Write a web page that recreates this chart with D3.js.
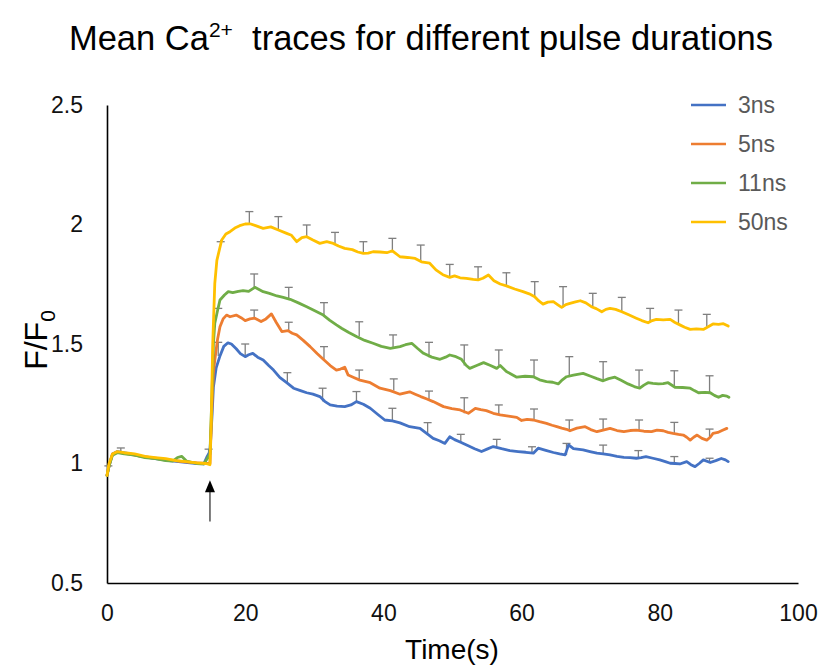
<!DOCTYPE html>
<html><head><meta charset="utf-8">
<script src="https://cdn.jsdelivr.net/npm/d3@7"></script>
<style>body{margin:0;background:#fff}svg{display:block}</style>
</head><body>
<svg id="c" width="823" height="668"></svg>
<script>
// ---------------- data ----------------
const seriesNames = ["3ns", "5ns", "11ns", "50ns"];
const seriesColors = ["#4472C4", "#ED7D31", "#70AD47", "#FFC000"];
const xTicks = [0, 20, 40, 60, 80, 100];
const yTicks = [0.5, 1, 1.5, 2, 2.5];

const t3 = [0,0.3,0.8,1.5,3,5,7,9,11,13,14,14.5,14.9,15.2,15.4,15.8,16.35,16.9,17.5,18,18.7,19.3,20,20.5,21.1,21.8,22.6,23.4,24.1,25,26,27,28,28.9,29.8,30.8,31.5,32.3,33.3,34.4,35.3,36.1,37.1,38.1,39.2,40.2,41.3,42.4,43.8,45.3,46.3,47.2,48.1,48.9,49.6,50.3,51.1,52.2,53.2,54.2,55,55.9,57.1,58.3,59.5,60.6,61.7,62.4,63.5,64.6,65.5,66.3,66.8,67.5,68.9,69.9,70.9,71.8,72.8,73.8,74.8,75.7,76.6,77.3,78,79,80,80.8,81.5,82.2,82.9,83.9,84.5,85.1,85.7,86.3,87.3,88.1,88.9,89.5,89.9];
const v3 = [0.95,0.99,1.04,1.05,1.042,1.03,1.02,1.012,1.006,1.0,0.998,1.03,1.05,1.2,1.32,1.40,1.45,1.49,1.505,1.50,1.48,1.46,1.447,1.455,1.461,1.445,1.433,1.41,1.391,1.36,1.338,1.315,1.305,1.296,1.29,1.28,1.26,1.245,1.24,1.238,1.245,1.259,1.248,1.231,1.205,1.182,1.178,1.17,1.154,1.147,1.125,1.105,1.095,1.084,1.112,1.1,1.09,1.075,1.062,1.05,1.06,1.071,1.062,1.054,1.05,1.047,1.043,1.064,1.055,1.046,1.04,1.036,1.078,1.062,1.057,1.05,1.043,1.04,1.036,1.03,1.026,1.025,1.022,1.025,1.029,1.022,1.015,1.008,1.001,1.0,0.998,1.008,0.995,0.987,1.0,1.015,1.004,1.012,1.021,1.015,1.008];

const t5 = [0,0.3,0.8,1.5,3,5,7,9,11,13,14.5,14.9,15.2,15.4,15.6,16,16.35,16.8,17.3,17.8,18.7,19.4,20,20.7,21.4,22.3,23,23.8,24.5,25.3,26.2,26.8,27.45,28.4,29.4,30.4,31.3,32.3,33.2,33.8,34.4,34.9,35.7,36.6,38.1,39.5,41,42.4,43.8,44.6,45.4,46.3,47.2,48.7,49.9,51.1,52.3,53.3,54.1,54.9,55.9,56.9,58.1,59.3,60,60.8,61.7,62.6,63.6,64.4,65.1,65.8,66.5,67,68,69.2,70,70.9,71.8,72.8,73.8,74.8,75.7,76.6,77.7,78.8,79.6,80.5,81.2,81.9,82.7,83.4,83.9,84.4,84.9,85.4,86.1,86.8,87.3,87.7,88.4,89,89.7];
const v5 = [0.95,0.99,1.04,1.048,1.04,1.03,1.022,1.015,1.008,1.003,1.0,1.0,1.25,1.38,1.433,1.52,1.572,1.605,1.621,1.614,1.621,1.61,1.598,1.605,1.608,1.594,1.605,1.626,1.59,1.552,1.556,1.545,1.538,1.515,1.489,1.46,1.436,1.41,1.391,1.395,1.403,1.37,1.36,1.349,1.338,1.315,1.305,1.29,1.30,1.29,1.28,1.27,1.259,1.238,1.23,1.224,1.21,1.231,1.225,1.221,1.21,1.203,1.198,1.193,1.18,1.185,1.182,1.175,1.168,1.16,1.154,1.148,1.143,1.137,1.148,1.154,1.142,1.133,1.14,1.147,1.138,1.133,1.138,1.14,1.135,1.133,1.14,1.137,1.13,1.126,1.122,1.119,1.11,1.098,1.11,1.119,1.105,1.098,1.11,1.126,1.13,1.138,1.147];

const t11 = [0,0.3,0.8,1.5,2.5,4,5.5,7,8.5,9.5,10.2,10.8,11.5,13,14,14.5,14.9,15.2,15.4,15.6,16,16.35,17,17.55,18.2,19,19.7,20.5,21.4,22,22.6,23.5,24.6,25.5,26.5,27.7,28.9,30,31.3,32.2,33.2,34,35,36.1,37.3,38.5,39.7,41,42.4,43.2,44.1,45,45.8,47,48.2,49,49.6,50.5,51.3,52,52.5,53.5,54.5,55.5,56.4,56.9,57.8,59.3,60.5,61.7,62.6,63.6,64.5,65.3,65.9,66.5,67.5,68.9,70,70.9,71.8,72.6,73.5,74.4,75.4,76.3,77.1,77.7,78.3,79,79.8,80.5,81.2,82.2,83.3,84.4,85,85.6,86.5,87.3,87.9,88.5,89.1,89.7,90];
const v11 = [0.95,0.99,1.035,1.045,1.04,1.035,1.025,1.02,1.012,1.01,1.025,1.03,1.01,1.0,0.998,1.02,1.04,1.3,1.5,1.587,1.64,1.684,1.705,1.719,1.715,1.72,1.723,1.72,1.737,1.728,1.719,1.712,1.701,1.695,1.687,1.672,1.656,1.64,1.621,1.6,1.58,1.565,1.548,1.531,1.515,1.503,1.49,1.482,1.489,1.497,1.503,1.48,1.461,1.445,1.436,1.445,1.454,1.447,1.436,1.41,1.398,1.41,1.422,1.41,1.398,1.41,1.385,1.361,1.365,1.363,1.35,1.343,1.34,1.333,1.35,1.363,1.37,1.377,1.365,1.355,1.346,1.355,1.361,1.348,1.333,1.322,1.315,1.328,1.338,1.335,1.333,1.334,1.338,1.319,1.318,1.315,1.305,1.296,1.298,1.296,1.285,1.277,1.285,1.282,1.277];

const t50 = [0,0.3,0.8,1.5,2.5,4,5.5,7,8.5,10,11.5,13,14.3,14.9,15.1,15.3,15.6,15.9,16.6,17.2,17.8,18.5,19.2,20,20.7,21.5,22.6,23.7,24.8,26,26.7,27.45,28.2,28.9,29.8,30.8,31.8,32.75,33.5,34.4,35.5,36.3,37.1,37.8,38.5,39.5,40.5,41.3,42.4,43.5,44.6,45.5,46.7,47.6,48.6,49.6,50.3,51.1,52,53,53.7,54.4,55.2,56,56.9,57.8,59,60.2,61.1,61.9,62.5,63.1,63.8,64.6,65.2,65.8,66.4,67,67.8,68.5,69.3,70.1,70.8,71.6,72.2,72.8,73.6,74.5,75.5,76.6,77.4,78.3,78.9,79.5,80.5,81.5,82.2,82.9,83.6,84.4,85.3,86.3,87,87.7,88.5,89.2,89.9];
const v50 = [0.95,1.0,1.04,1.05,1.045,1.04,1.03,1.025,1.02,1.012,1.008,1.003,1.0,0.995,1.2,1.5,1.754,1.85,1.935,1.96,1.97,1.985,1.995,2.002,2.003,1.995,1.984,1.99,1.977,1.963,1.955,1.928,1.945,1.949,1.935,1.921,1.928,1.921,1.91,1.9,1.895,1.885,1.879,1.88,1.886,1.885,1.882,1.89,1.865,1.862,1.858,1.844,1.838,1.81,1.79,1.779,1.785,1.777,1.775,1.77,1.768,1.775,1.789,1.765,1.751,1.743,1.73,1.719,1.71,1.698,1.68,1.667,1.675,1.677,1.665,1.653,1.665,1.67,1.676,1.681,1.672,1.656,1.648,1.635,1.645,1.649,1.645,1.635,1.622,1.608,1.598,1.589,1.598,1.603,1.601,1.603,1.59,1.58,1.57,1.561,1.563,1.561,1.572,1.584,1.582,1.585,1.575];

// error bars: time and top (mean + SD)
const e3t = [16.1,20.0,26.1,31.2,36.1,41.3,46.4,51.2,56.4,61.5,66.5,71.8,76.9,82.1,87.2];
const e3top = [1.507,1.50,1.38,1.315,1.301,1.231,1.171,1.122,1.101,1.07,1.084,1.077,1.054,1.029,1.022];
const e5t = [21.3,26.3,31.4,36.5,41.5,46.6,51.7,56.7,61.8,66.9,71.8,77.0,82.1,87.2];
const e5top = [1.642,1.591,1.489,1.391,1.354,1.303,1.275,1.245,1.228,1.182,1.186,1.182,1.172,1.144];
const e11t = [14.7,16.1,21.3,26.3,31.4,36.5,41.4,46.6,51.7,56.7,61.8,66.9,71.8,77.0,82.1,87.2];
const e11top = [1.06,1.649,1.793,1.737,1.673,1.593,1.538,1.507,1.496,1.475,1.433,1.447,1.426,1.391,1.388,1.367];
const e50t = [0.2,2.0,16.45,20.6,24.8,28.9,33.0,37.1,41.3,45.4,49.6,53.7,57.8,61.9,66.0,70.3,74.5,78.6,82.7,86.8];
const e50top = [0.99,1.065,1.928,2.054,2.033,1.998,1.967,1.928,1.942,1.914,1.833,1.823,1.798,1.761,1.740,1.712,1.695,1.649,1.642,1.624];

const arrowTime = 14.9;
const arrowFrom = 0.757;
const arrowTo = 0.93;

// ---------------- chart ----------------
const svg = d3.select("#c");
const FONT = "'Liberation Sans', Arial, Helvetica, sans-serif";
const x = d3.scaleLinear().domain([0, 100]).range([107, 798]);
const y = d3.scaleLinear().domain([0.5, 2.5]).range([583, 105]);

const series = [
  {name: seriesNames[0], color: seriesColors[0], t: t3, v: v3, et: e3t, etop: e3top},
  {name: seriesNames[1], color: seriesColors[1], t: t5, v: v5, et: e5t, etop: e5top},
  {name: seriesNames[2], color: seriesColors[2], t: t11, v: v11, et: e11t, etop: e11top},
  {name: seriesNames[3], color: seriesColors[3], t: t50, v: v50, et: e50t, etop: e50top}
];

// title
const title = svg.append("text").attr("x", 421).attr("y", 50).attr("text-anchor", "middle")
  .attr("font-family", FONT).attr("font-size", 34.5).attr("fill", "#000");
title.append("tspan").text("Mean Ca");
title.append("tspan").attr("font-size", 21).attr("dy", -13).text("2+");
title.append("tspan").attr("dy", 13).text("\u00A0 traces for different pulse durations");

// axes
const xAxis = svg.append("g").attr("transform", "translate(0,583)")
  .call(d3.axisBottom(x).tickValues(xTicks).tickSize(0).tickPadding(22).tickFormat(d3.format("d")));
xAxis.select(".domain").attr("stroke", "#000").attr("stroke-width", 1.6);
xAxis.selectAll("text").attr("font-family", FONT).attr("font-size", 23).attr("fill", "#111");

const yAxis = svg.append("g").attr("transform", "translate(107,0)")
  .call(d3.axisLeft(y).tickValues(yTicks).tickSize(0).tickPadding(24).tickFormat(d => String(d)));
yAxis.select(".domain").attr("stroke", "#000").attr("stroke-width", 1.6);
yAxis.selectAll("text").attr("font-family", FONT).attr("font-size", 23).attr("fill", "#111");

// axis labels
svg.append("text").attr("x", 452).attr("y", 659).attr("text-anchor", "middle")
  .attr("font-family", FONT).attr("font-size", 28).attr("fill", "#000").text("Time(s)");
const yl = svg.append("text").attr("transform", "translate(47,340) rotate(-90)").attr("text-anchor", "middle")
  .attr("font-family", FONT).attr("font-size", 32).attr("fill", "#000");
yl.append("tspan").text("F/F");
yl.append("tspan").attr("font-size", 21).attr("dy", 8).text("0");

// error bars
function nearest(s, tt) {
  const i = d3.minIndex(s.t, d => Math.abs(d - tt));
  return s.v[i];
}
const eg = svg.append("g").attr("stroke", "#7f7f7f").attr("stroke-width", 1.3).attr("fill", "none");
series.forEach(s => {
  s.et.forEach((tt, i) => {
    const base = nearest(s, tt);
    const xp = x(tt);
    eg.append("line").attr("x1", xp).attr("x2", xp).attr("y1", y(base)).attr("y2", y(s.etop[i]));
    eg.append("line").attr("x1", xp - 4).attr("x2", xp + 4).attr("y1", y(s.etop[i])).attr("y2", y(s.etop[i]));
  });
});

// lines
const line = d3.line().x(d => x(d[0])).y(d => y(d[1]));
series.forEach(s => {
  svg.append("path").datum(s.t.map((tt, i) => [tt, s.v[i]]))
    .attr("d", line).attr("fill", "none").attr("stroke", s.color)
    .attr("stroke-width", 2.8).attr("stroke-linejoin", "round").attr("stroke-linecap", "round");
});

// arrow
const ax = x(arrowTime);
svg.append("line").attr("x1", ax).attr("x2", ax).attr("y1", y(arrowFrom)).attr("y2", y(arrowTo) + 10)
  .attr("stroke", "#444").attr("stroke-width", 1.4);
svg.append("path").attr("d", `M${ax},${y(arrowTo)} L${ax - 5},${y(arrowTo) + 12} L${ax + 5},${y(arrowTo) + 12} Z`)
  .attr("fill", "#000");

// legend
const lg = svg.append("g");
series.forEach((s, i) => {
  const yy = 105 + i * 39;
  lg.append("line").attr("x1", 691).attr("x2", 726).attr("y1", yy).attr("y2", yy)
    .attr("stroke", s.color).attr("stroke-width", 2.6);
  lg.append("text").attr("x", 738).attr("y", yy + 8).attr("font-family", FONT)
    .attr("font-size", 23).attr("fill", "#595959").text(s.name);
});
</script>
</body></html>
